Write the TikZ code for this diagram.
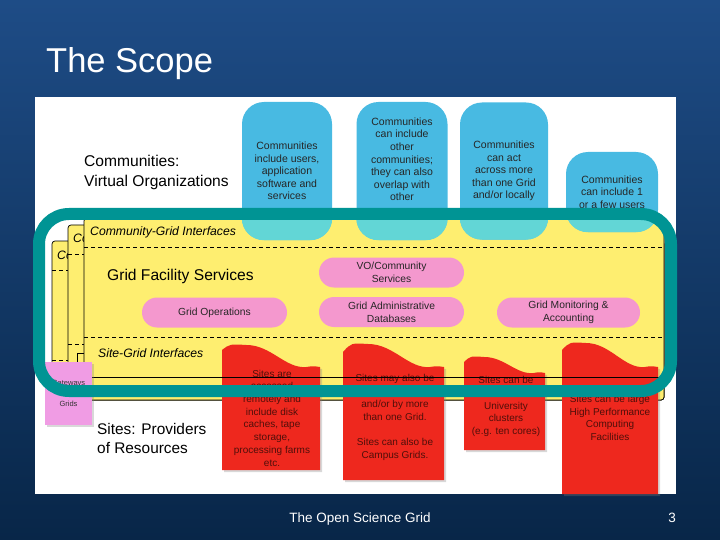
\documentclass[tikz,border=0pt]{standalone}
\usepackage{fontspec}
\setmainfont{Liberation Sans}
\usetikzlibrary{shadows}

\definecolor{slideblue}{RGB}{30,76,134}
\definecolor{slidedark}{RGB}{8,38,72}
\definecolor{commcyan}{RGB}{72,186,226}
\definecolor{commlow}{RGB}{98,214,214}
\definecolor{cardyellow}{RGB}{254,238,112}
\definecolor{servpink}{RGB}{244,152,206}
\definecolor{gatepink}{RGB}{240,156,228}
\definecolor{sitered}{RGB}{238,40,30}
\definecolor{sitetxt}{RGB}{80,15,10}
\definecolor{frameteal}{RGB}{0,148,148}

\begin{document}
\begin{tikzpicture}[x=1pt, y=-1pt,
    commblob/.style={fill=commcyan, rounded corners=22pt, inner sep=0pt, align=center,
      text=black!85, font=\fontsize{10.5}{12.6}\selectfont},
    servoval/.style={fill=servpink, rounded corners=15pt, minimum height=30pt, inner sep=0pt,
      align=center, text=black!85, font=\fontsize{10.3}{12.8}\selectfont},
    sitetext/.style={align=center, text=sitetxt, font=\fontsize{10}{12.7}\selectfont},
    layertitle/.style={anchor=base west, inner sep=0pt, font=\itshape\fontsize{12.2}{14}\selectfont},
    bigtext/.style={anchor=base west, inner sep=0pt, font=\fontsize{15.6}{19}\selectfont},
    cardline/.style={dash pattern=on 4pt off 3pt, line width=1pt},
    card/.style={fill=cardyellow, draw=black, line width=0.7pt, rounded corners=3pt}]

    % slide
    \shade[top color=slideblue, bottom color=slidedark] (0,0) rectangle (720,540);
    \useasboundingbox (0,0) rectangle (720,540);
    \node[anchor=base west, inner sep=0pt, text=white, font=\fontsize{34.5}{40}\selectfont] (title) at (46,73) {The Scope};
    \fill[white] (35,97) rectangle (676,494);

    % stacked cards behind
    \foreach \cx/\cy in {52/241, 68/225}
    {
      \fill[card] (\cx,\cy) rectangle (664,400);
      \begin{scope}
        \clip (\cx,\cy) rectangle (\cx+16,\cy+28);
        \node[layertitle] (cgi-\cx) at (\cx+5,\cy+18) {Co};
      \end{scope}
      \draw[cardline] (\cx,\cy+29) -- (664,\cy+29);
      \draw[cardline] (\cx,\cy+119) -- (664,\cy+119);
    }
    \draw[line width=0.7pt] (77,400) -- (77,353) -- (90,353);

    % front card
    \fill[card] (84,218) rectangle (664,400);
    \node[layertitle] (cgi) at (90,236) {Community-Grid Interfaces};
    \draw[cardline] (84,247) -- (664,247);
    \draw[cardline] (84,337) -- (664,337);
    \node[bigtext] (gfs) at (107,280) {Grid Facility Services};
    \node[layertitle] (sgi) at (98,357.5) {Site-Grid Interfaces};

    % communities
    \node[bigtext] (vo1) at (84,166.5) {Communities:};
    \node[bigtext] (vo2) at (84,187) {Virtual Organizations};
    \node[commblob, minimum width=90pt, minimum height=138pt] (comm1) at (287,171)
      {Communities\\include users,\\application\\software and\\services};
    \node[commblob, minimum width=91pt, minimum height=138pt] (comm2) at (402,171)
      {Communities\\can include\\other\\communities;\\they can also\\overlap with\\other\\[11pt]};
    \node[commblob, minimum width=88pt, minimum height=137pt] (comm3) at (504,171)
      {Communities\\can act\\across more\\than one Grid\\and/or locally};
    \node[commblob, minimum width=92pt, minimum height=80pt] (comm4) at (612,192)
      {Communities\\can include 1\\or a few users};
    \begin{scope}
      \clip (84,218) rectangle (664,400);
      \foreach \n in {comm1,comm2,comm3,comm4}
        \fill[commlow, rounded corners=22pt] (\n.south west) rectangle (\n.north east);
    \end{scope}

    % grid services
    \node[servoval, minimum width=145pt] (vosvc) at (391.5,272.5) {VO/Community\\Services};
    \node[servoval, minimum width=145pt] (gridops) at (214.5,312.5) {Grid Operations};
    \node[servoval, minimum width=145pt] (admindb) at (391.5,312) {Grid Administrative\\Databases};
    \node[servoval, minimum width=143pt] (monitor) at (568.5,312.5) {Grid Monitoring \&\\Accounting};

    % sites
    \foreach \xa/\xb/\ya/\yp/\yb/\yc in {222/320/350/345/367/470, 343/444/352/344/367/480,
                                        464/545/362/357/373/450, 562/658/350/343/367/494}
      \fill[sitered, drop shadow={opacity=0.3, shadow xshift=2pt, shadow yshift=-2pt}]
        (\xa,\yc) -- (\xa,\ya)
        .. controls ({\xa+0.08*(\xb-\xa)},{\yp-1}) .. ({\xa+0.25*(\xb-\xa)},\yp)
        .. controls ({\xa+0.5*(\xb-\xa)},\yp) and ({\xa+0.65*(\xb-\xa)},{\yb+2}) .. ({\xa+0.86*(\xb-\xa)},\yb)
        .. controls ({\xa+0.93*(\xb-\xa)},{\yb-1}) .. (\xb,\yb) -- (\xb,\yc) -- cycle;
    \node[sitetext] (site1) at (272,418)
      {Sites are\\accessed\\remotely and\\include disk\\caches, tape\\storage,\\processing farms\\etc.};
    \node[sitetext] (site2) at (395,417.5)
      {Sites may also be\\accessed locally\\and/or by more\\than one Grid.\\[12.7pt]Sites can also be\\Campus Grids.};
    \node[sitetext] (site3) at (506,406.5)
      {Sites can be\\small\\University\\clusters\\(e.g. ten cores)};
    \node[sitetext] (site4) at (610,418)
      {Sites can be large\\High Performance\\Computing\\Facilities};
    \draw[line width=0.8pt] (84,377) -- (664,377);
    \draw[line width=0.8pt] (84,385) -- (664,385);

    \node[fill=gatepink, minimum width=47pt, minimum height=63pt, inner sep=0pt, align=center,
      font=\fontsize{7.5}{10.5}\selectfont, text=black!80,
      drop shadow={opacity=0.3, shadow xshift=2pt, shadow yshift=-2pt}] (gate) at (68.5,393.5)
      {Gateways\\to\\Grids};
    \node[bigtext, font=\fontsize{15.4}{19}\selectfont] (prov1) at (97,434) {Sites: Providers};
    \node[bigtext, font=\fontsize{15.4}{19}\selectfont] (prov2) at (97,453.5) {of Resources};

    % teal frame
    \draw[frameteal, line width=12pt, rounded corners=30pt] (39,214) rectangle (671,391);

    % footer
    \node[anchor=base, inner sep=0pt, text=white, font=\fontsize{13.5}{16}\selectfont] (footer) at (360,522) {The Open Science Grid};
    \node[anchor=base east, inner sep=0pt, text=white, font=\fontsize{13.5}{16}\selectfont] (pagenum) at (676,522) {3};
\end{tikzpicture}
\end{document}
